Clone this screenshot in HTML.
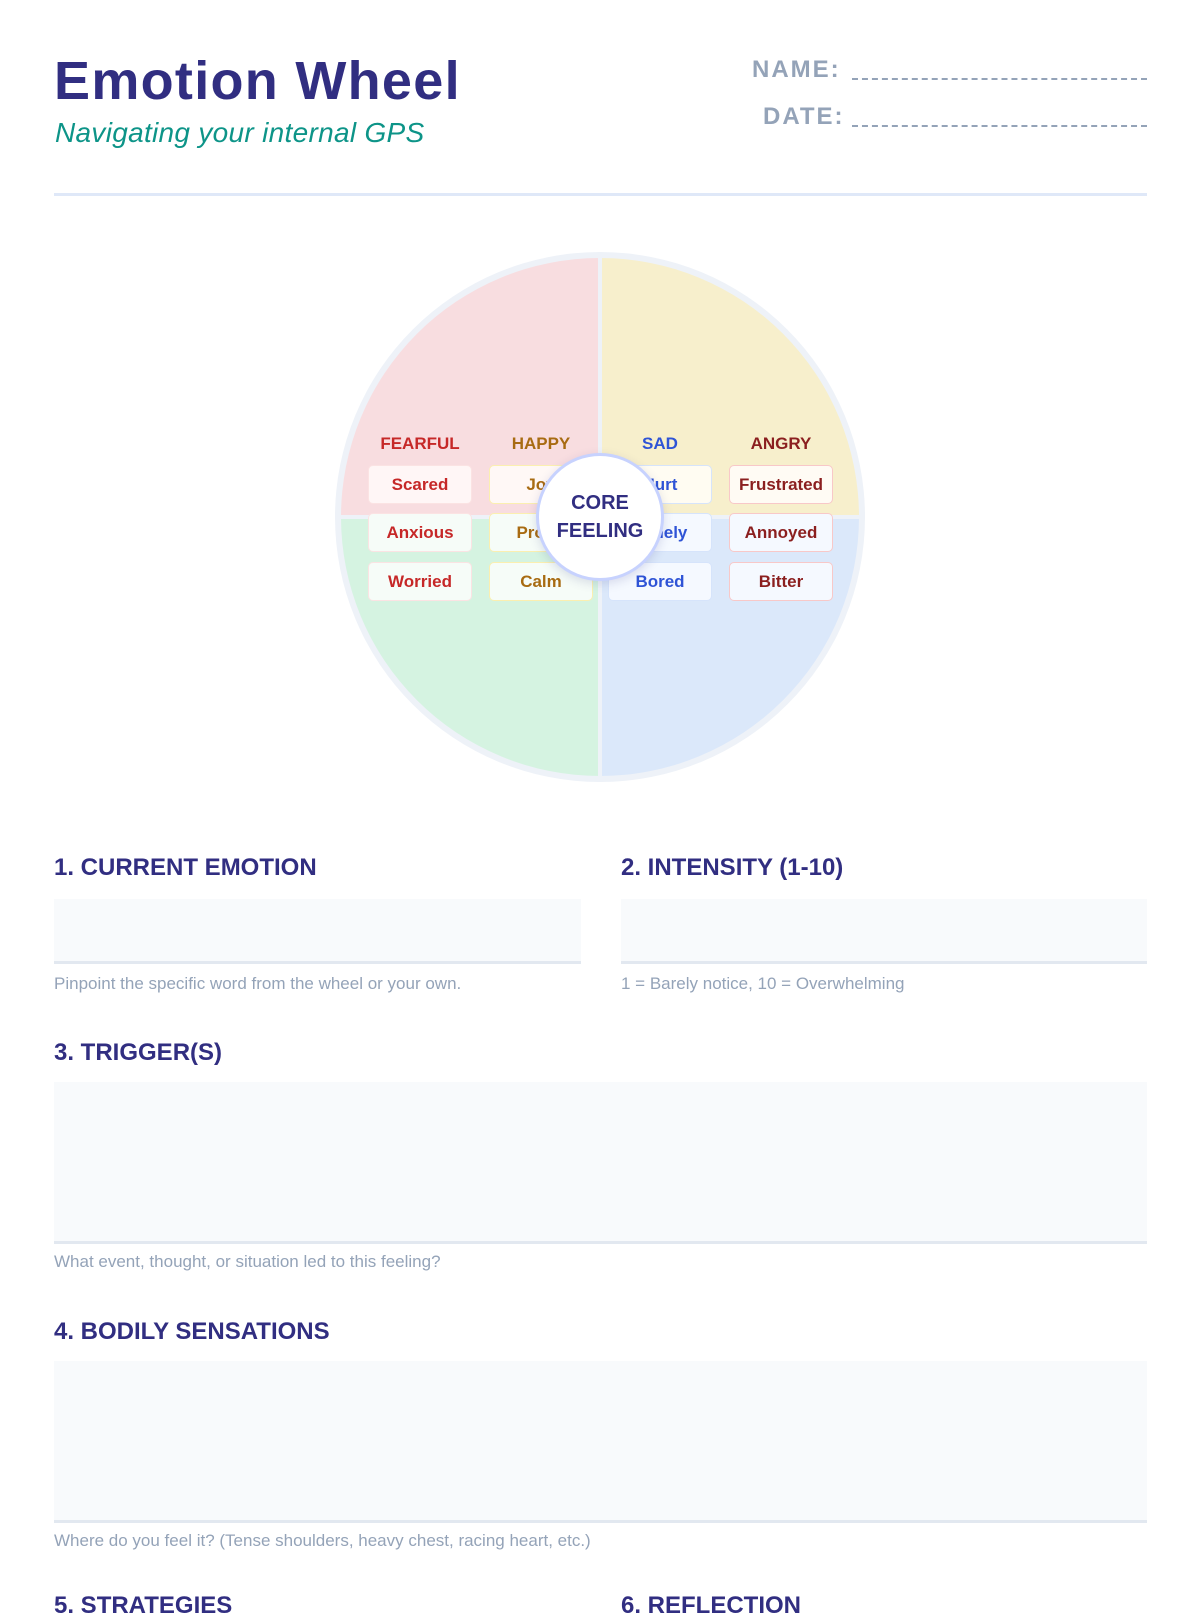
<!DOCTYPE html>
<html><head><meta charset="utf-8"><style>
*{margin:0;padding:0;box-sizing:border-box}
body{width:1200px;height:1600px;background:#fff;font-family:"Liberation Sans",sans-serif;position:relative;overflow:hidden}
.a{position:absolute}
h1{position:absolute;left:54px;top:50px;font-size:54px;font-weight:bold;color:#312e81;letter-spacing:1.3px}
.sub{left:55px;top:117px;font-size:28px;font-style:italic;color:#0d9488;letter-spacing:0.3px}
.fl{font-size:24px;font-weight:bold;color:#94a3b8;letter-spacing:2px}
.ln{border-bottom:2px dashed #94a3b8;height:2px}
.pill{position:absolute;width:104px;height:39px;margin-left:-52px;margin-top:-19.5px;border-radius:5px;font-size:17px;font-weight:bold;text-align:center;line-height:37px;border:1.5px solid}
.hd{position:absolute;font-size:17px;font-weight:bold;width:120px;margin-left:-60px;text-align:center;top:434px}
.st{position:absolute;font-size:24px;font-weight:bold;color:#312e81}
.box{position:absolute;background:#f8fafc;border-bottom:3px solid #e2e8f0}
.hint{position:absolute;font-size:17px;color:#94a3b8}
</style></head><body>
<h1>Emotion Wheel</h1>
<div class="a sub">Navigating your internal GPS</div>
<div class="a fl" style="left:752px;top:56px">NAME:</div>
<div class="a ln" style="left:852px;top:78px;width:295px"></div>
<div class="a fl" style="left:763px;top:103px">DATE:</div>
<div class="a ln" style="left:852px;top:125px;width:295px"></div>
<div class="a" style="left:54px;top:193px;width:1093px;height:3px;background:#dfe8f8"></div>

<svg class="a" style="left:0;top:0" width="1200" height="800">
<circle cx="600" cy="517" r="265" fill="#eef2f8"/>
<clipPath id="c"><circle cx="600" cy="517" r="259"/></clipPath>
<g clip-path="url(#c)">
<rect x="330" y="250" width="268" height="265" fill="#f8dde0"/>
<rect x="602" y="250" width="268" height="265" fill="#f7efcc"/>
<rect x="330" y="519" width="268" height="265" fill="#d5f3e1"/>
<rect x="602" y="519" width="268" height="265" fill="#dbe8fa"/>
</g>
</svg>

<div class="hd" style="left:420px;color:#c62828">FEARFUL</div>
<div class="hd" style="left:541px;color:#a86b12">HAPPY</div>
<div class="hd" style="left:660px;color:#2f54d6">SAD</div>
<div class="hd" style="left:781px;color:#8b1f1f">ANGRY</div>

<div class="pill" style="left:420px;top:484px;background:#fff6f6;border-color:#fbe3e3;color:#c62828">Scared</div>
<div class="pill" style="left:420px;top:532px;background:#f6fcf8;border-color:#fbe3e3;color:#c62828">Anxious</div>
<div class="pill" style="left:420px;top:581px;background:#f6fcf8;border-color:#fbe3e3;color:#c62828">Worried</div>
<div class="pill" style="left:541px;top:484px;background:#fff8f6;border-color:#fbefb0;color:#a86b12">Joy</div>
<div class="pill" style="left:541px;top:532px;background:#f6fcf8;border-color:#fbefb0;color:#a86b12">Proud</div>
<div class="pill" style="left:541px;top:581px;background:#f6fcf8;border-color:#fbefb0;color:#a86b12">Calm</div>
<div class="pill" style="left:660px;top:484px;background:#fffcf2;border-color:#d6e4fb;color:#2f54d6">Hurt</div>
<div class="pill" style="left:660px;top:532px;background:#f5f9ff;border-color:#d6e4fb;color:#2f54d6">Lonely</div>
<div class="pill" style="left:660px;top:581px;background:#f5f9ff;border-color:#d6e4fb;color:#2f54d6">Bored</div>
<div class="pill" style="left:781px;top:484px;background:#fffbf4;border-color:#f8c8c8;color:#8b1f1f">Frustrated</div>
<div class="pill" style="left:781px;top:532px;background:#f5f9ff;border-color:#f8c8c8;color:#8b1f1f">Annoyed</div>
<div class="pill" style="left:781px;top:581px;background:#f5f9ff;border-color:#f8c8c8;color:#8b1f1f">Bitter</div>

<div class="a" style="left:536px;top:453px;width:128px;height:128px;border-radius:50%;background:#fff;border:3px solid #c7d2fe;box-shadow:0 3px 10px rgba(49,46,129,0.15);text-align:center;color:#312e81;font-size:20px;font-weight:bold;line-height:28px;padding-top:33px">CORE<br>FEELING</div>

<div class="st" style="left:54px;top:854px">1. CURRENT EMOTION</div>
<div class="st" style="left:621px;top:854px">2. INTENSITY (1-10)</div>
<div class="box" style="left:54px;top:899px;width:527px;height:65px"></div>
<div class="box" style="left:621px;top:899px;width:526px;height:65px"></div>
<div class="hint" style="left:54px;top:974px">Pinpoint the specific word from the wheel or your own.</div>
<div class="hint" style="left:621px;top:974px">1 = Barely notice, 10 = Overwhelming</div>

<div class="st" style="left:54px;top:1039px">3. TRIGGER(S)</div>
<div class="box" style="left:54px;top:1082px;width:1093px;height:162px"></div>
<div class="hint" style="left:54px;top:1252px">What event, thought, or situation led to this feeling?</div>

<div class="st" style="left:54px;top:1318px">4. BODILY SENSATIONS</div>
<div class="box" style="left:54px;top:1361px;width:1093px;height:162px"></div>
<div class="hint" style="left:54px;top:1531px">Where do you feel it? (Tense shoulders, heavy chest, racing heart, etc.)</div>

<div class="st" style="left:54px;top:1592px">5. STRATEGIES</div>
<div class="st" style="left:621px;top:1592px">6. REFLECTION</div>
</body></html>
